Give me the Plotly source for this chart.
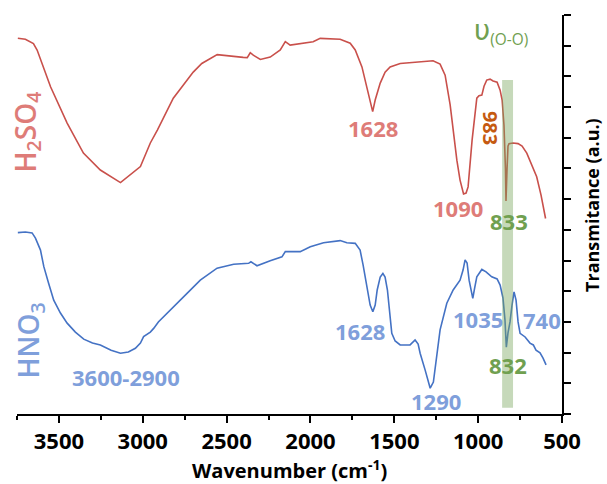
import plotly.graph_objects as go

# ---------------- data ----------------
h2so4_wn = [3745, 3700, 3652, 3630, 3550, 3451, 3354, 3253, 3133, 3014, 2955, 2913,
            2818, 2699, 2648, 2556, 2401, 2377, 2359, 2341, 2299, 2240, 2180, 2150,
            2121, 2043, 1984, 1942, 1823, 1763, 1733, 1693, 1668, 1644, 1629, 1614,
            1584, 1555, 1525, 1465, 1346, 1269, 1227, 1197, 1167, 1127, 1108, 1087,
            1072, 1060, 1036, 1008, 995, 978, 965, 949, 929, 911, 887, 869, 857,
            846, 837, 834, 828, 822, 816, 792, 762, 738, 710, 685, 651, 625, 598]
h2so4_t = [12.24, 12.21, 12.07, 11.86, 10.66, 9.48, 8.50, 7.95, 7.54, 8.06, 8.83, 9.25,
           10.29, 11.14, 11.42, 11.71, 11.62, 11.61, 11.77, 11.69, 11.55, 11.63, 11.86, 12.13,
           12.02, 12.07, 12.13, 12.24, 12.21, 12.08, 11.86, 11.31, 10.72, 10.13, 9.85, 10.23,
           10.78, 11.14, 11.31, 11.42, 11.47, 11.51, 11.40, 11.04, 10.07, 8.27, 7.62, 7.17,
           7.20, 7.40, 8.93, 10.29, 10.37, 10.39, 10.68, 10.88, 10.91, 10.85, 10.81, 10.55, 10.23,
           9.41, 7.95, 6.94, 7.95, 8.73, 8.81, 8.83, 8.81, 8.73, 8.50, 8.18, 7.73, 7.13, 6.37]

hno3_wn = [3745, 3700, 3660, 3640, 3610, 3590, 3562, 3531, 3491, 3451, 3402, 3352,
           3300, 3253, 3189, 3133, 3086, 3044, 3014, 2995, 2955, 2935, 2907, 2875,
           2816, 2736, 2657, 2557, 2458, 2369, 2355, 2319, 2240, 2170, 2150, 2061,
           2001, 1922, 1823, 1783, 1733, 1704, 1686, 1664, 1644, 1628, 1614, 1602,
           1584, 1568, 1555, 1541, 1531, 1515, 1495, 1465, 1406, 1376, 1358, 1346,
           1316, 1286, 1267, 1251, 1227, 1187, 1149, 1108, 1090, 1078, 1066, 1054,
           1032, 1021, 1008, 978, 953, 919, 887, 869, 852, 840, 832, 822, 810, 798,
           786, 774, 762, 750, 720, 691, 671, 655, 631, 613, 595]
hno3_t = [5.91, 5.93, 5.90, 5.73, 5.34, 4.80, 4.27, 3.71, 3.29, 2.96, 2.67, 2.44,
          2.31, 2.25, 2.08, 1.98, 2.02, 2.14, 2.31, 2.52, 2.67, 2.79, 3.00, 3.17,
          3.50, 3.93, 4.36, 4.75, 4.88, 4.91, 4.96, 4.83, 4.99, 5.12, 5.29, 5.29,
          5.45, 5.58, 5.65, 5.58, 5.56, 5.34, 4.85, 4.15, 3.55, 3.33, 3.55, 4.04,
          4.46, 4.58, 4.46, 4.04, 3.39, 2.63, 2.38, 2.25, 2.25, 2.41, 2.28, 1.98,
          1.43, 0.84, 1.04, 1.76, 2.74, 3.61, 4.04, 4.36, 4.69, 5.02, 4.92, 4.36,
          3.77, 4.10, 4.47, 4.71, 4.63, 4.47, 4.40, 4.20, 3.78, 3.06, 2.18, 2.64, 3.00, 3.55,
          3.98, 3.71, 3.00, 2.63, 2.51, 2.31, 2.25, 2.08, 1.99, 1.82, 1.60]

x_ticks = [3500, 3000, 2500, 2000, 1500, 1000, 500]

# peak labels: text, wavenumber, transmittance level
red_labels = ["1628", "1090"]
red_label_wn = [1626, 1123]
red_label_t = [9.32, 6.71]

blue_labels = ["3600-2900", "1628", "1290", "1035", "740"]
blue_label_wn = [3098, 1703, 1254, 1000, 622]
blue_label_t = [1.21, 2.70, 0.42, 3.08, 3.06]

green_labels = ["833", "832"]
green_label_wn = [816, 822]
green_label_t = [6.29, 1.60]

band_wn = [857, 792]
band_t = [0.2, 10.88]

# ---------------- styling ----------------
RED = "#c9504b"
BLUE = "#4472c4"
RED_TXT = "#de7c78"
BLUE_TXT = "#7f9fdb"
GREEN_TXT = "#70a050"
ORANGE_TXT = "#c55a11"
FONT = "Open Sans"

fig = go.Figure()
fig.add_trace(go.Scatter(x=h2so4_wn, y=h2so4_t, mode="lines",
                         line=dict(color=RED, width=1.6), name="H2SO4"))
fig.add_trace(go.Scatter(x=hno3_wn, y=hno3_t, mode="lines",
                         line=dict(color=BLUE, width=1.6), name="HNO3"))

fig.add_shape(type="rect", xref="x", yref="y",
              x0=band_wn[0], x1=band_wn[1], y0=band_t[0], y1=band_t[1],
              fillcolor="rgba(120,165,90,0.42)", line=dict(width=0), layer="above")

ann = []
lab_font = dict(family=FONT, size=22, weight="bold")
for t, x, y in zip(red_labels, red_label_wn, red_label_t):
    ann.append(dict(x=x, y=y, text=t, showarrow=False, font=dict(lab_font, color=RED_TXT)))
for t, x, y in zip(blue_labels, blue_label_wn, blue_label_t):
    ann.append(dict(x=x, y=y, text=t, showarrow=False, font=dict(lab_font, color=BLUE_TXT)))
for t, x, y in zip(green_labels, green_label_wn, green_label_t):
    ann.append(dict(x=x, y=y, text=t, showarrow=False, font=dict(lab_font, color=GREEN_TXT)))
ann.append(dict(x=929, y=9.32, text="983", textangle=90, showarrow=False,
                font=dict(family=FONT, size=20, weight="bold", color=ORANGE_TXT)))
ann.append(dict(x=866, y=12.45,
                text="<span style='font-size:28px;font-family:DejaVu Sans'>υ</span><sub>(O-O)</sub>",
                showarrow=False, font=dict(family=FONT, size=22, color=GREEN_TXT)))
ann.append(dict(x=3693, y=9.19, text="H<sub>2</sub>SO<sub>4</sub>", textangle=-90,
                showarrow=False, font=dict(family=FONT, size=28, weight=600, color=RED_TXT)))
ann.append(dict(x=3675, y=2.38, text="HNO<sub>3</sub>", textangle=-90,
                showarrow=False, font=dict(family=FONT, size=28, weight=600, color=BLUE_TXT)))
ann.append(dict(xref="paper", yref="paper", x=1.054, y=0.525, xanchor="center",
                yanchor="middle", text="Transmitance (a.u.)",
                textangle=-90, showarrow=False,
                font=dict(family=FONT, size=18, weight="bold", color="black")))
ann.append(dict(xref="paper", yref="paper", x=0.5, y=-0.14, xanchor="center",
                yanchor="middle", text="Wavenumber (cm<sup>-1</sup>)", showarrow=False,
                font=dict(family=FONT, size=20, weight="bold", color="black")))

fig.update_layout(
    width=607, height=484,
    margin=dict(l=17, r=45, t=15, b=70),
    paper_bgcolor="white", plot_bgcolor="white",
    showlegend=False,
    annotations=ann,
    xaxis=dict(range=[3750, 500], tickvals=x_ticks, showgrid=False, zeroline=False,
               showline=True, linecolor="black", linewidth=2,
               ticks="outside", ticklen=7, tickwidth=2, tickcolor="black",
               minor=dict(dtick=250, ticks="outside", ticklen=4, tickwidth=1.5, tickcolor="black"),
               tickfont=dict(family=FONT, size=22, weight="bold", color="black")),
    yaxis=dict(range=[0, 13], dtick=1, side="right", showgrid=False, zeroline=False,
               showline=True, linecolor="black", linewidth=2,
               ticks="outside", ticklen=7, tickwidth=2, tickcolor="black",
               showticklabels=False),
)

fig.write_html("out.html")
